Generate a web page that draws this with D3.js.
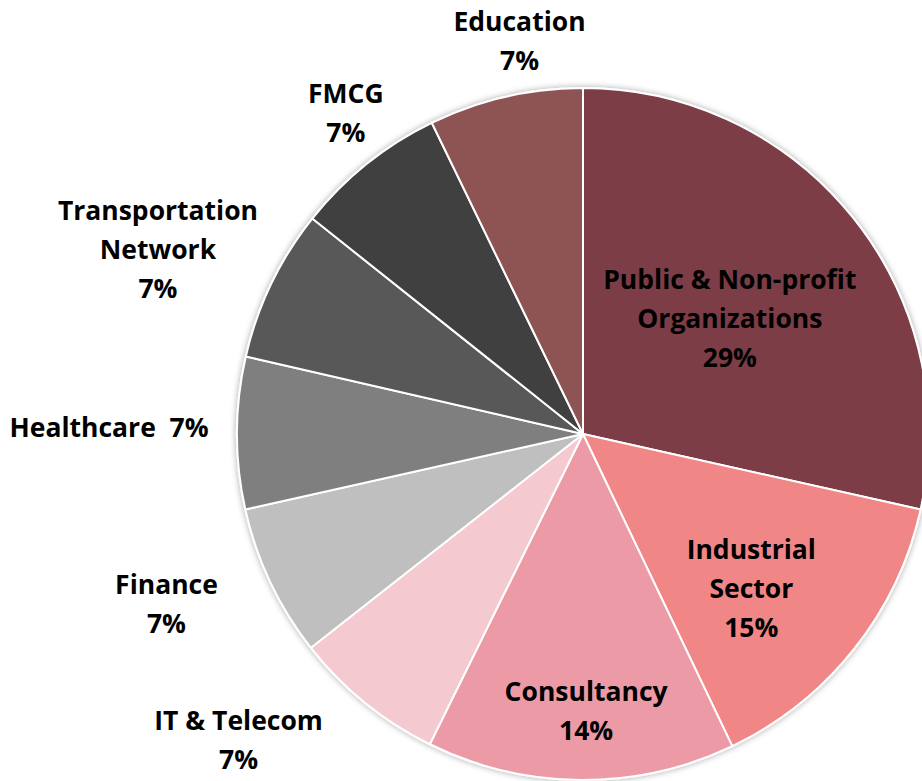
<!DOCTYPE html>
<html>
<head>
<meta charset="utf-8">
<script src="https://cdn.jsdelivr.net/npm/d3@7"></script>
<style>
  body { margin: 0; background: #fff; }
  svg { display: block; }
  text { white-space: pre; }
</style>
</head>
<body>
<div id="chart"></div>
<script>
// slice data, clockwise from 12 o'clock
const categories = ['Public & Non-profit Organizations', 'Industrial Sector', 'Consultancy', 'IT & Telecom',
  'Finance', 'Healthcare', 'Transportation Network', 'FMCG', 'Education'];
const shares = [28.5, 14.4, 14.4, 7.1, 7.1, 7.1, 7.1, 7.1, 7.2];
const pctLabels = ['29%', '15%', '14%', '7%', '7%', '7%', '7%', '7%', '7%'];
// how each label is broken into lines
const labelLines = [
  ['Public & Non-profit', 'Organizations', '29%'],
  ['Industrial', 'Sector', '15%'],
  ['Consultancy', '14%'],
  ['IT & Telecom', '7%'],
  ['Finance', '7%'],
  ['Healthcare  7%'],
  ['Transportation', 'Network', '7%'],
  ['FMCG', '7%'],
  ['Education', '7%']
];
const colors = ['#7B3D46', '#F08685', '#EC9AA5', '#F5C9D0', '#BFBFBF', '#7F7F7F', '#595959', '#404040', '#8E5252'];

const W = 922, H = 781;
const cx = 583, cy = 434, R = 346;
// label placement: [radius factor, angle nudge in degrees]
const labelPlace = [[0.54, 0.5], [0.66, 4], [0.80, -1], [1.33, 9.4], [1.30, 3.2], [1.37, 0.7], [1.34, -2.2], [1.155, 2.3], [1.153, 3.8]];

const svg = d3.select('#chart').append('svg')
  .attr('width', W)
  .attr('height', H);

const defs = svg.append('defs');
const f = defs.append('filter').attr('id', 'shadow')
  .attr('x', '-10%').attr('y', '-10%').attr('width', '120%').attr('height', '120%');
f.append('feDropShadow').attr('dx', 0).attr('dy', 0).attr('stdDeviation', 3)
  .attr('flood-color', '#000').attr('flood-opacity', 0.35);

const pie = d3.pie().sort(null).value(d => d)(shares);
const arc = d3.arc().innerRadius(0).outerRadius(R);

const g = svg.append('g').attr('transform', `translate(${cx},${cy})`);

g.append('g').attr('filter', 'url(#shadow)')
  .selectAll('path')
  .data(pie)
  .join('path')
    .attr('d', arc)
    .attr('fill', (d, i) => colors[i])
    .attr('stroke', '#fff')
    .attr('stroke-width', 2)
    .attr('stroke-linejoin', 'round');

const lineH = 39;
const lbl = g.append('g')
  .attr('font-family', '"Open Sans", Lato, sans-serif')
  .attr('font-weight', 700)
  .attr('font-size', 26.5)
  .attr('fill', '#000')
  .attr('text-anchor', 'middle');

pie.forEach((d, i) => {
  const [k, nudge] = labelPlace[i];
  const a = (d.startAngle + d.endAngle) / 2 + nudge * Math.PI / 180;
  const x = Math.sin(a) * R * k;
  const y = -Math.cos(a) * R * k;
  const lines = labelLines[i];
  const t = lbl.append('text')
    .attr('x', x)
    .attr('y', y - (lines.length - 1) * lineH / 2)
    .attr('dominant-baseline', 'central');
  lines.forEach((s, j) => {
    t.append('tspan')
      .attr('x', x)
      .attr('dy', j === 0 ? 0 : lineH)
      .text(s);
  });
});
</script>
</body>
</html>
